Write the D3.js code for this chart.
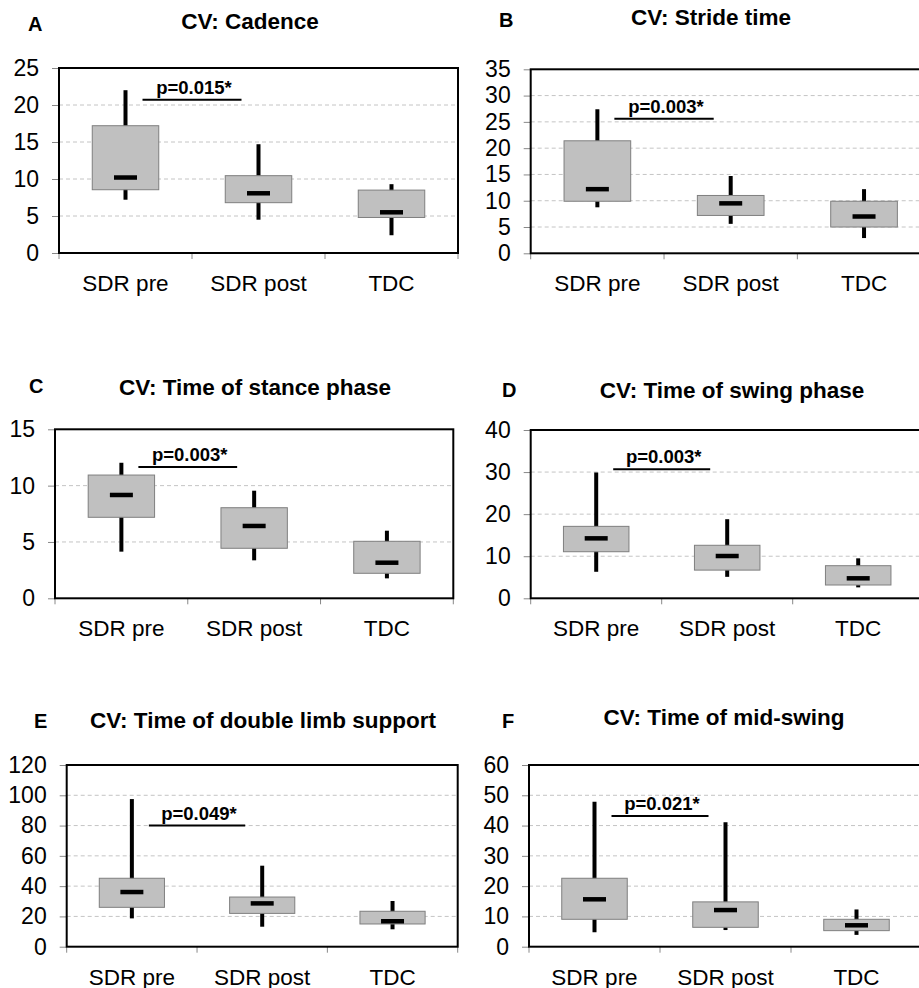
<!DOCTYPE html>
<html>
<head>
<meta charset="utf-8">
<script src="https://cdnjs.cloudflare.com/ajax/libs/d3/7.8.5/d3.min.js"></script>
<style>
  body { margin: 0; background: #fff; }
  text { font-family: "Liberation Sans", Arial, sans-serif; fill: #000; }
</style>
</head>
<body>
<div class="chart"></div>
<script>
// CV box plots, six panels

var categories = ["SDR pre", "SDR post", "TDC"];
var panelLetters = ["A", "B", "C", "D", "E", "F"];
var panelTitles = ["CV: Cadence", "CV: Stride time", "CV: Time of stance phase",
    "CV: Time of swing phase", "CV: Time of double limb support", "CV: Time of mid-swing"];
var yMax = [25, 35, 15, 40, 120, 60];
var yStep = [5, 5, 5, 10, 20, 10];
var pLabels = ["p=0.015*", "p=0.003*", "p=0.003*", "p=0.003*", "p=0.049*", "p=0.021*"];
var pLineValue = [20.7, 25.6, 11.65, 30.7, 80, 43.2];

var whiskerLow = [[7.2, 4.5, 2.4], [8.75, 5.6, 2.9], [4.14, 3.37, 1.77],
    [6.3, 5.1, 2.6], [18.7, 13.2, 11.5], [4.75, 5.5, 3.9]];
var q1 = [[8.55, 6.8, 4.8], [9.9, 7.2, 5.0], [7.19, 4.44, 2.22],
    [11.07, 6.7, 3.16], [26.0, 22.0, 15.0], [9.05, 6.4, 5.3]];
var median = [[10.2, 8.07, 5.5], [12.2, 9.5, 7.0], [9.17, 6.42, 3.16],
    [14.25, 10.05, 4.75], [36.1, 28.6, 16.8], [15.65, 12.1, 7.07]];
var q3 = [[17.2, 10.45, 8.5], [21.4, 11.0, 9.9], [10.94, 8.04, 5.06],
    [17.1, 12.6, 7.75], [45.2, 32.8, 23.4], [22.6, 14.8, 9.05]];
var whiskerHigh = [[22.0, 14.7, 9.3], [27.4, 14.7, 12.2], [12.03, 9.55, 6.0],
    [29.9, 18.8, 9.5], [97.5, 53.5, 30.2], [47.9, 41.1, 12.3]];

// plot frames of each panel (left, top, width, height) and title placement
var frames = [
    {x: 59, y: 68, w: 399, h: 185, titleX: 250, titleY: 29, letterX: 28, letterY: 31},
    {x: 530.7, y: 69.3, w: 400, h: 184, titleX: 711, titleY: 25, letterX: 499, letterY: 27},
    {x: 55, y: 429.3, w: 398.3, h: 169, titleX: 255, titleY: 395, letterX: 29, letterY: 393},
    {x: 530.7, y: 430, w: 393, h: 168.3, titleX: 732, titleY: 398, letterX: 502, letterY: 397},
    {x: 66.7, y: 765, w: 391, h: 181.7, titleX: 263, titleY: 728, letterX: 34, letterY: 728},
    {x: 529, y: 765, w: 393, h: 181.7, titleX: 724, titleY: 725, letterX: 502, letterY: 728}
];

var svgWidth = 919;
var svgHeight = 988;

var svg = d3.select(".chart")
    .append("svg")
    .attr("width", svgWidth)
    .attr("height", svgHeight);

frames.forEach(function(f, i) {
    var g = svg.append("g").attr("transform", "translate(" + f.x + "," + f.y + ")");

    var x = d3.scaleBand().domain(categories).range([0, f.w]).padding(0);
    var y = d3.scaleLinear().domain([0, yMax[i]]).range([f.h, 0]);
    var bw = x.bandwidth();
    var ticks = d3.range(0, yMax[i] + yStep[i] / 2, yStep[i]);

    // gridlines
    g.selectAll(".grid")
        .data(ticks.filter(function(t) { return t > 0 && t < yMax[i]; }))
        .enter()
        .append("line")
        .attr("x1", 0)
        .attr("x2", f.w)
        .attr("y1", function(d) { return y(d); })
        .attr("y2", function(d) { return y(d); })
        .attr("stroke", "#c4c4c4")
        .attr("stroke-width", 1)
        .attr("stroke-dasharray", "4,3");

    // y axis
    var leftAxis = d3.axisLeft(y).tickValues(ticks).tickSize(7).tickPadding(13);
    var ya = g.append("g").call(leftAxis);
    ya.select(".domain").remove();
    ya.selectAll(".tick line").attr("stroke", "#888");
    ya.selectAll(".tick text").style("font-size", "23px").attr("fill", "#000");

    // x axis labels
    var bottomAxis = d3.axisBottom(x).tickSize(0).tickPadding(22);
    var xa = g.append("g").attr("transform", "translate(0," + f.h + ")").call(bottomAxis);
    xa.select(".domain").remove();
    xa.selectAll(".tick text").style("font-size", "22.5px").attr("fill", "#000");

    // category boundary ticks
    g.selectAll(".bound")
        .data(d3.range(categories.length + 1))
        .enter()
        .append("line")
        .attr("x1", function(d) { return d * x.step(); })
        .attr("x2", function(d) { return d * x.step(); })
        .attr("y1", f.h)
        .attr("y2", f.h + 6)
        .attr("stroke", "#888")
        .attr("stroke-width", 1);

    // whiskers
    g.selectAll(".whisker")
        .data(categories)
        .enter()
        .append("line")
        .attr("x1", function(d) { return x(d) + bw / 2; })
        .attr("x2", function(d) { return x(d) + bw / 2; })
        .attr("y1", function(d, j) { return y(whiskerLow[i][j]); })
        .attr("y2", function(d, j) { return y(whiskerHigh[i][j]); })
        .attr("stroke", "#000")
        .attr("stroke-width", 4);

    // boxes
    g.selectAll(".box")
        .data(categories)
        .enter()
        .append("rect")
        .attr("x", function(d) { return x(d) + bw * 0.25; })
        .attr("width", bw * 0.5)
        .attr("y", function(d, j) { return y(q3[i][j]); })
        .attr("height", function(d, j) { return y(q1[i][j]) - y(q3[i][j]); })
        .attr("fill", "#c0c0c0")
        .attr("stroke", "#7f7f7f")
        .attr("stroke-width", 1);

    // medians
    g.selectAll(".median")
        .data(categories)
        .enter()
        .append("line")
        .attr("x1", function(d) { return x(d) + bw / 2 - 11.5; })
        .attr("x2", function(d) { return x(d) + bw / 2 + 11.5; })
        .attr("y1", function(d, j) { return y(median[i][j]); })
        .attr("y2", function(d, j) { return y(median[i][j]); })
        .attr("stroke", "#000")
        .attr("stroke-width", 4.5);

    // frame
    g.append("rect")
        .attr("width", f.w)
        .attr("height", f.h)
        .attr("fill", "none")
        .attr("stroke", "#000")
        .attr("stroke-width", 2);

    // significance bar
    var sx1 = x(categories[0]) + bw / 2 + 17;
    var sx2 = x(categories[1]) + bw / 2 - 17;
    g.append("line")
        .attr("x1", sx1)
        .attr("x2", sx2)
        .attr("y1", y(pLineValue[i]))
        .attr("y2", y(pLineValue[i]))
        .attr("stroke", "#000")
        .attr("stroke-width", 2);
    g.append("text")
        .attr("x", (sx1 + sx2) / 2 + 2)
        .attr("y", y(pLineValue[i]) - 6)
        .attr("text-anchor", "middle")
        .style("font-size", "18.5px")
        .style("font-weight", "bold")
        .text(pLabels[i]);

    // title and letter
    svg.append("text")
        .attr("x", f.titleX)
        .attr("y", f.titleY)
        .attr("text-anchor", "middle")
        .style("font-size", "22.5px")
        .style("font-weight", "bold")
        .text(panelTitles[i]);
    svg.append("text")
        .attr("x", f.letterX)
        .attr("y", f.letterY)
        .style("font-size", "20px")
        .style("font-weight", "bold")
        .text(panelLetters[i]);
});
</script>
</body>
</html>
